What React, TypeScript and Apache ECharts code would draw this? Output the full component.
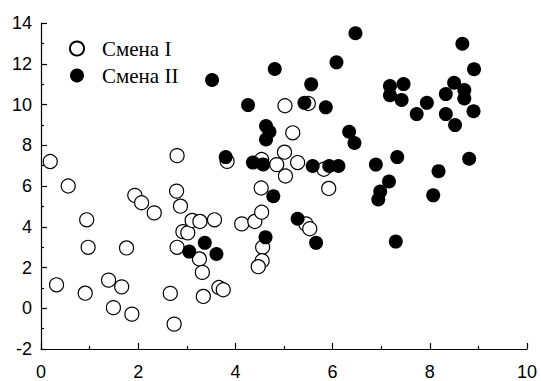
import React, { useEffect, useRef } from "react";
import * as echarts from "echarts";

const seriesNames = ["Смена I", "Смена II"];

const shift1X = [0.19, 0.56, 0.94, 0.97, 0.32, 0.91, 1.39, 1.66, 1.49, 1.87, 1.76, 1.93, 2.07, 2.33, 2.66, 2.74, 2.79, 2.87, 2.8, 2.8, 2.92, 3.02, 3.11, 3.27, 3.57, 3.26, 3.32, 3.34, 3.66, 3.75, 3.83, 4.13, 4.4, 4.54, 4.53, 4.56, 4.55, 4.47, 4.54, 4.85, 5.01, 5.28, 5.03, 5.18, 5.02, 5.5, 5.45, 5.53, 5.82, 5.92];
const shift1Y = [7.2, 6.0, 4.34, 2.99, 1.15, 0.74, 1.38, 1.05, 0.03, -0.29, 2.96, 5.54, 5.18, 4.68, 0.73, -0.78, 5.75, 5.01, 2.99, 7.49, 3.76, 3.7, 4.31, 4.26, 4.34, 2.42, 1.76, 0.58, 1.02, 0.91, 7.21, 4.14, 4.26, 4.71, 5.9, 2.99, 2.33, 2.04, 7.3, 7.05, 7.66, 7.15, 6.49, 8.61, 9.94, 10.05, 4.14, 3.9, 6.82, 5.88];

const shift2X = [3.52, 4.26, 4.81, 5.56, 5.42, 5.86, 6.08, 6.47, 4.63, 4.7, 4.63, 6.34, 6.45, 3.8, 4.36, 4.57, 5.59, 5.93, 6.12, 4.78, 5.28, 4.62, 5.66, 3.37, 3.05, 3.61, 8.67, 8.91, 7.18, 7.46, 7.18, 7.42, 8.5, 8.71, 8.33, 8.71, 7.94, 7.73, 8.33, 8.9, 8.52, 7.33, 6.89, 8.81, 8.18, 7.16, 6.98, 6.94, 8.07, 7.3];
const shift2Y = [11.2, 9.97, 11.74, 10.99, 10.08, 9.86, 12.07, 13.5, 8.94, 8.66, 8.28, 8.66, 8.11, 7.42, 7.15, 7.06, 6.98, 6.98, 6.98, 5.5, 4.39, 3.48, 3.21, 3.21, 2.78, 2.66, 12.98, 11.73, 10.91, 11.0, 10.46, 10.22, 11.07, 10.71, 10.51, 10.3, 10.08, 9.53, 9.53, 9.67, 8.99, 7.42, 7.05, 7.34, 6.73, 6.22, 5.73, 5.34, 5.54, 3.27];

const xTicks = { min: 0, max: 10, interval: 2 };
const yTicks = { min: -2, max: 14, interval: 2 };

const zip = (xs: number[], ys: number[]) => xs.map((x, i) => [x, ys[i]]);

export default function App() {
  const ref = useRef<HTMLDivElement>(null);
  useEffect(() => {
    if (!ref.current) return;
    const chart = echarts.init(ref.current, null, { renderer: "svg" });
    const axisCommon = {
      axisLine: { show: true, onZero: false, lineStyle: { color: "#000", width: 1.2 } },
      axisTick: { show: true, inside: true, length: 6, lineStyle: { color: "#000", width: 1.2 } },
      minorTick: { show: true, splitNumber: 2, length: 3, lineStyle: { color: "#000", width: 1.2 } },
      splitLine: { show: false },
      minorSplitLine: { show: false },
      axisLabel: { color: "#000", fontFamily: "Liberation Sans, Arial, sans-serif", fontSize: 18 },
    };
    chart.setOption({
      animation: false,
      backgroundColor: "#fff",
      grid: { left: 41, right: 14, top: 23, bottom: 32, containLabel: false },
      xAxis: {
        type: "value",
        ...xTicks,
        ...axisCommon,
        axisLabel: { ...axisCommon.axisLabel, margin: 14 },
      },
      yAxis: {
        type: "value",
        ...yTicks,
        ...axisCommon,
        axisLabel: { ...axisCommon.axisLabel, margin: 9 },
      },
      legend: {
        orient: "vertical",
        left: 64,
        top: 33,
        itemWidth: 14,
        itemHeight: 14,
        itemGap: 6,
        textStyle: {
          color: "#000",
          fontFamily: "Liberation Serif, Times New Roman, serif",
          fontSize: 21,
          lineHeight: 21,
          padding: [0, 0, 0, 13],
        },
        data: seriesNames,
      },
      series: [
        {
          name: seriesNames[0],
          type: "scatter",
          symbol: "circle",
          symbolSize: 14,
          itemStyle: { color: "#fff", borderColor: "#000", borderWidth: 1.2, opacity: 1 },
          data: zip(shift1X, shift1Y),
        },
        {
          name: seriesNames[1],
          type: "scatter",
          symbol: "circle",
          symbolSize: 14,
          itemStyle: { color: "#000", borderColor: "#000", borderWidth: 0, opacity: 1 },
          data: zip(shift2X, shift2Y),
        },
      ],
    });
    return () => chart.dispose();
  }, []);
  return <div ref={ref} style={{ position: "fixed", left: 0, top: 0, width: 541, height: 381 }} />;
}
